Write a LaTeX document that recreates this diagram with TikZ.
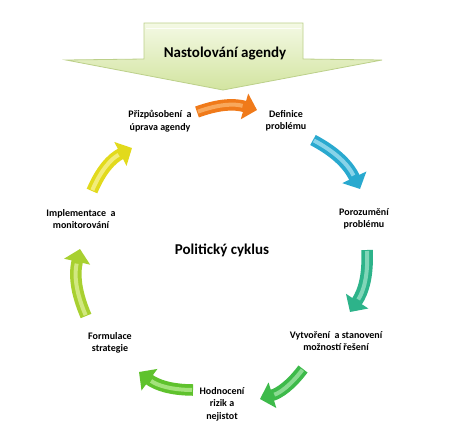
\documentclass[tikz,border=0pt]{standalone}
\usepackage{fontspec}
\setmainfont{Carlito}
\usetikzlibrary{arrows.meta}
\definecolor{bigtop}{HTML}{F4F9E4}
\definecolor{bigbot}{HTML}{D2E4A0}
\definecolor{bigline}{HTML}{BCD08A}
\definecolor{cOr}{HTML}{F07A1A}\definecolor{cOrL}{HTML}{FBB873}
\definecolor{cCy}{HTML}{29A9CF}\definecolor{cCyL}{HTML}{A8E2F2}
\definecolor{cTe}{HTML}{2DB38A}\definecolor{cTeL}{HTML}{9DE3C8}
\definecolor{cGr}{HTML}{3DBA4A}\definecolor{cGrL}{HTML}{A5E6AA}
\definecolor{cLi}{HTML}{5FC22D}\definecolor{cLiL}{HTML}{BAED96}
\definecolor{cLg}{HTML}{A8D030}\definecolor{cLgL}{HTML}{DFF19C}
\definecolor{cYe}{HTML}{E2DA1C}\definecolor{cYeL}{HTML}{F8F39C}
\begin{document}
\begin{tikzpicture}[x=1pt,y=-1pt,
  lbl/.style={font=\bfseries\fontsize{10}{12.5}\selectfont, align=center, inner sep=1pt},
  bigtext/.style={font=\bfseries\fontsize{15}{18}\selectfont, inner sep=1pt},
  cyc/.style={line width=11.5pt, -{Triangle[length=13pt,width=26pt]}},
  hl/.style={line width=4pt, shorten >=15pt, shorten <=1pt, opacity=0.75},
]
\useasboundingbox[fill=white] (0,0) rectangle (460,424);

% big down arrow
\shade[top color=bigtop, bottom color=bigbot, draw=bigline, line width=0.8pt]
  (144,23) -- (303,23) -- (303,59) -- (382,60) -- (223,90) -- (66,60) -- (144,59) -- cycle;
\draw[white, line width=1pt, opacity=0.8] (146,28) -- (301,28);
\node[bigtext] (agenda) at (225,54) {Nastolování agendy};

% labels
\node[lbl] (p1) at (160,121) {Přizpůsobení\ \ a\\úprava agendy};
\node[lbl] (p2) at (286,121) {Definice\\problému};
\node[lbl] (p3) at (364,219) {Porozumění\\problému};
\node[lbl] (p4) at (336,341) {Vytvoření\ \ a stanovení\\možností řešení};
\node[lbl] (p5) at (222,404) {Hodnocení\\rizik a\\nejistot};
\node[lbl] (p6) at (110,343) {Formulace\\strategie};
\node[lbl] (p7) at (81,219) {Implementace\ \ a\\monitorování};
\node[bigtext] (center) at (222,250) {Politický cyklus};

% arrow end points
\coordinate (a1s) at (197,112); \coordinate (a1e) at (257,110);
\coordinate (a2s) at (313,140); \coordinate (a2e) at (360,189);
\coordinate (a3s) at (367,250); \coordinate (a3e) at (350,312);
\coordinate (a4s) at (303,369); \coordinate (a4e) at (260,399);
\coordinate (a5s) at (193,390); \coordinate (a5e) at (139,372);
\coordinate (a6s) at (86,316); \coordinate (a6e) at (80,249);
\coordinate (a7s) at (92,191); \coordinate (a7e) at (132,148);

\draw[cyc, cOr] (a1s) to[bend left=18] (a1e);
\draw[hl, cOrL] (a1s) to[bend left=18] (a1e);
\draw[cyc, cCy] (a2s) to[bend left=18] (a2e);
\draw[hl, cCyL] (a2s) to[bend left=18] (a2e);
\draw[cyc, cTe] (a3s) to[bend left=18] (a3e);
\draw[hl, cTeL] (a3s) to[bend left=18] (a3e);
\draw[cyc, cGr] (a4s) to[bend left=18] (a4e);
\draw[hl, cGrL] (a4s) to[bend left=18] (a4e);
\draw[cyc, cLi] (a5s) to[bend left=18] (a5e);
\draw[hl, cLiL] (a5s) to[bend left=18] (a5e);
\draw[cyc, cLg] (a6s) to[bend left=18] (a6e);
\draw[hl, cLgL] (a6s) to[bend left=18] (a6e);
\draw[cyc, cYe] (a7s) to[bend left=20] (a7e);
\draw[hl, cYeL] (a7s) to[bend left=20] (a7e);
\end{tikzpicture}
\end{document}
